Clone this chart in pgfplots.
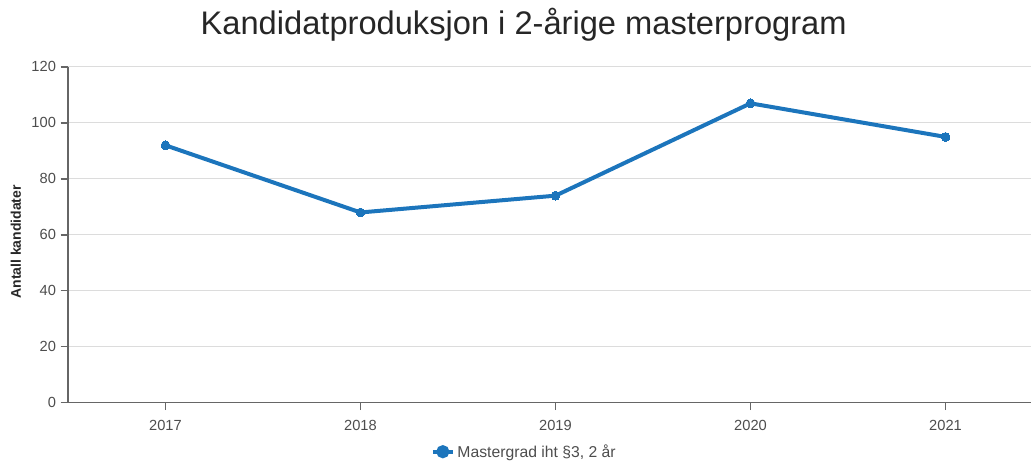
\documentclass[border=0pt]{standalone}
\usepackage{pgfplots}
\pgfplotsset{compat=1.18}
\usepackage{fontspec}
\setmainfont{Liberation Sans}

\definecolor{serie}{HTML}{1C75BC}
\definecolor{gridc}{HTML}{DCDCDC}
\definecolor{axisc}{HTML}{666666}
\definecolor{textc}{HTML}{4D4D4D}

\begin{document}
\begin{tikzpicture}
\begin{axis}[
    scale only axis,
    width=723pt,
    height=252pt,
    xmin=2016.5, xmax=2021.44,
    ymin=0, ymax=120,
    xtick={2017,2018,2019,2020,2021},
    ytick={0,20,40,60,80,100,120},
    xticklabel style={/pgf/number format/1000 sep={}, yshift=-4pt},
    /pgf/number format/assume math mode=true,
    ymajorgrids=true,
    grid style={gridc, line width=0.8pt},
    axis x line*=bottom,
    axis y line*=left,
    axis line style={axisc, line width=1pt, -},
    tick style={axisc, line width=1pt},
    tick align=outside,
    major tick length=5.5pt,
    ticklabel style={font=\fontsize{11}{13}\selectfont, text=textc},
    every axis y label/.style={at={(axis description cs:0,0.479)}, xshift=-39pt,
        rotate=90, anchor=center, font=\fontsize{10.5}{12}\selectfont\bfseries, text=black!85},
    ylabel={Antall kandidater},
    legend style={at={(axis description cs:0.474,0)}, yshift=-36.75pt, anchor=center,
        draw=none, fill=none, font=\fontsize{11.8}{14}\selectfont, text=textc,
        inner sep=0pt},
    legend image code/.code={
        \draw[#1] (0pt,0pt) -- (15pt,0pt);
        \fill[serie] (7.5pt,0pt) circle (3.4pt);
    },
    clip=false,
]
\addplot[color=serie, line width=3pt, mark=*, mark size=3.3pt,
    mark options={line width=0pt, fill=serie}] coordinates {
    (2017, 92)
    (2018, 68)
    (2019, 74)
    (2020, 107)
    (2021, 95)
};
\addlegendentry{Mastergrad iht §3, 2 år}
\end{axis}
\node[font=\fontsize{24.5}{29}\selectfont, text=black!85] at (342pt,283.5pt)
    {Kandidatproduksjon i 2-årige masterprogram};
\path[use as bounding box] (-51pt,-43.5pt) rectangle (723pt,302.25pt);
\end{tikzpicture}
\end{document}
